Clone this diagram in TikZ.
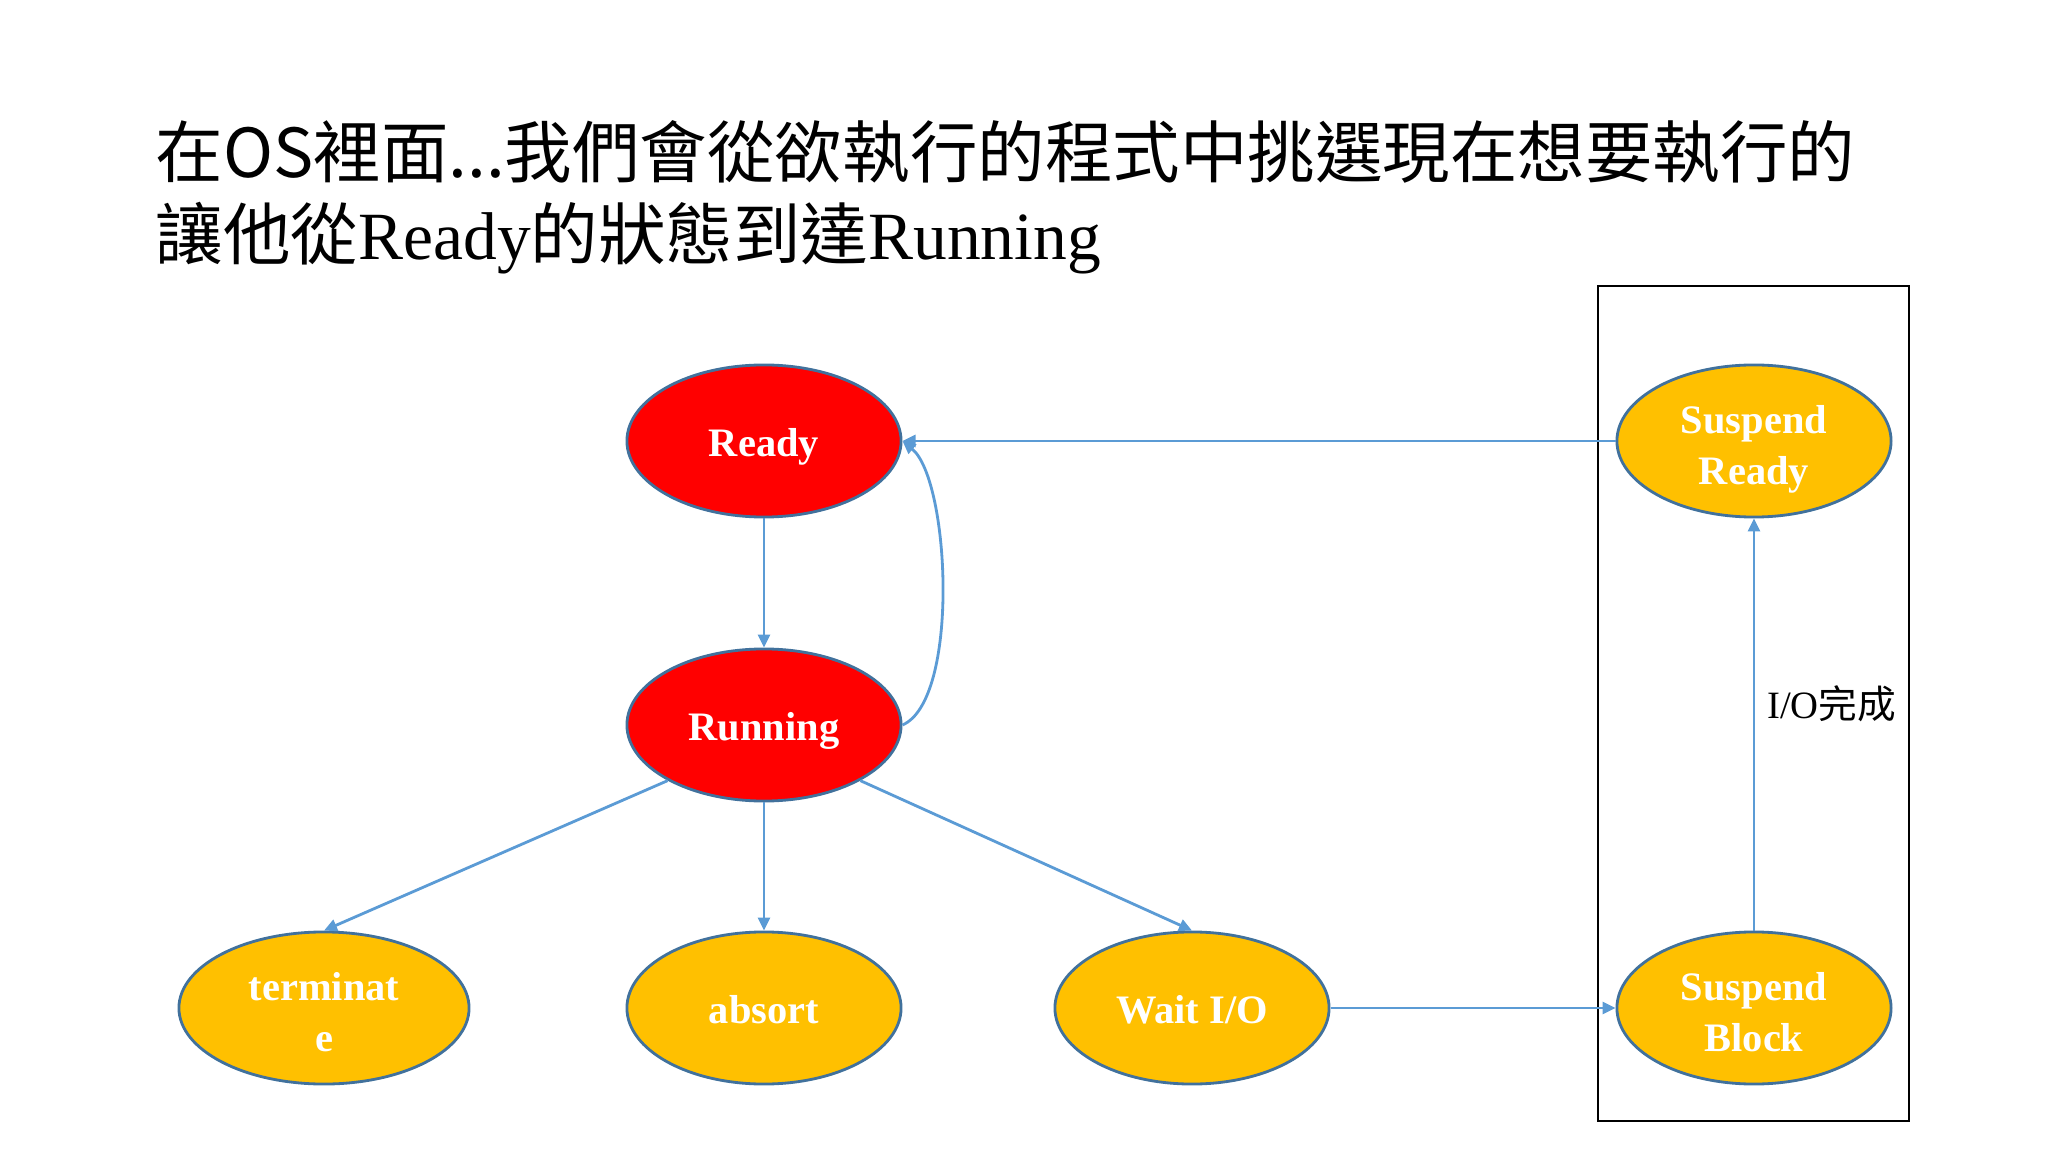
\documentclass[tikz,border=0pt]{standalone}
\usepackage{fontspec}
\setmainfont{Liberation Serif}
\newfontfamily\cjk{Noto Sans CJK TC}
\usetikzlibrary{arrows.meta, shapes.geometric}

\definecolor{stred}{HTML}{FF0000}
\definecolor{storange}{HTML}{FFC000}
\definecolor{stedge}{HTML}{41719C}
\definecolor{starrow}{HTML}{5B9BD5}

\begin{document}
\begin{tikzpicture}[x=0.01cm, y=-0.01cm,
			state/.style={ellipse, draw=stedge, line width=0.8pt, inner sep=0pt,
				minimum width=2.74cm, minimum height=1.52cm, align=center,
				text=white, font=\fontsize{11.5}{14.5}\selectfont\bfseries,
				execute at begin node={\rule[-0.3em]{0pt}{1.39em}}},
			twoline/.style={inner ysep=-5pt, execute at begin node={\rule[-0.3em]{0pt}{2.75em}}},
			hot/.style={state, fill=stred},
			idle/.style={state, fill=storange},
			arr/.style={-{Triangle[length=1.3mm, width=1.2mm]}, draw=starrow, line width=0.8pt},
			title/.style={anchor=base west, inner sep=0pt, font=\fontsize{19.2}{24}\selectfont}
			]
			\useasboundingbox (0,0) rectangle (2048,1152);
			
			\node[title] (title1) at (155,178) {{\cjk 在OS裡面...我們會從欲執行的程式中挑選現在想要執行的}};
			\node[title] (title2) at (155,260) {{\cjk 讓他從}Ready{\cjk 的狀態到達}Running};
			
			\node[hot] (ready) at (764,441) {Ready};
			\node[hot] (run) at (764,725) {Running};
			\node[idle, twoline, minimum width=2.9cm] (term) at (324,1008) {terminat\\e};
			\node[idle] (absort) at (764,1008) {absort};
			\node[idle] (wait) at (1192,1008) {Wait I/O};
			\node[idle, twoline] (sready) at (1754,441) {Suspend\\Ready};
			\node[idle, twoline] (sblock) at (1754,1008) {Suspend\\Block};
			
			% suspended group
			\draw[black, line width=0.8pt] (1598,286) rectangle (1909,1121);
			
			\draw[arr] (ready) -- (run);
			\draw[arr] (run.east) .. controls (960,700) and (950,480) .. (ready.east);
			\draw[arr] (run.210) -- (term.north);
			\draw[arr] (run) -- (absort);
			\draw[arr] (run.330) -- (wait.north);
			\draw[arr] (wait) -- (sblock);
			\draw[arr] (sblock) -- node[right, pos=0.55, text=black, font=\fontsize{11}{13}\selectfont]{I/O{\cjk 完成}} (sready);
			\draw[arr] (sready) -- (ready);
		\end{tikzpicture}
\end{document}
